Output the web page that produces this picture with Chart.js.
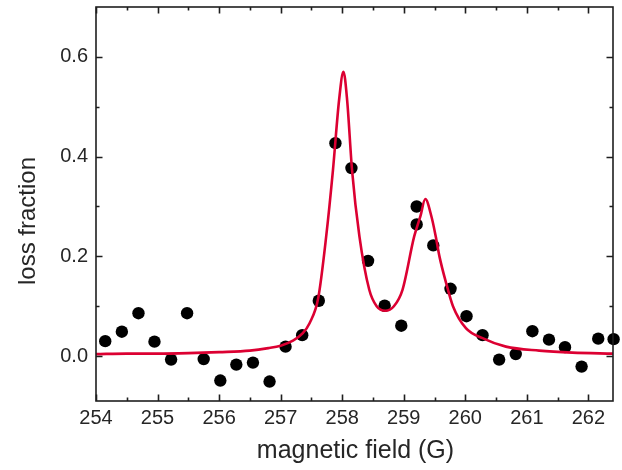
<!DOCTYPE html>
<html>
<head>
<meta charset="utf-8">
<script src="https://cdn.jsdelivr.net/npm/chart.js@4"></script>
<style>
  html, body { margin: 0; padding: 0; background: #fff; }
  #wrap { width: 622px; height: 470px; position: relative; }
</style>
</head>
<body>
<div id="wrap"><canvas id="chart"></canvas></div>
<script>
// measured points (magnetic field in G, loss fraction)
const fieldG = [254.15, 254.42, 254.69, 254.95, 255.22, 255.48, 255.75, 256.02, 256.28, 256.55,
                256.82, 257.08, 257.35, 257.62, 257.89, 258.15, 258.42, 258.69, 258.96, 259.21,
                259.21, 259.48, 259.76, 260.02, 260.28, 260.55, 260.82, 261.09, 261.36, 261.62,
                261.89, 262.16, 262.41];
const lossFrac = [0.030, 0.049, 0.086, 0.029, -0.007, 0.086, -0.006, -0.049, -0.017, -0.013,
                  -0.051, 0.019, 0.042, 0.111, 0.427, 0.377, 0.191, 0.101, 0.061, 0.300,
                  0.264, 0.222, 0.135, 0.080, 0.042, -0.007, 0.004, 0.050, 0.033, 0.018,
                  -0.021, 0.035, 0.034];

// fit curve
const fitField = [254.0, 254.5, 255.0, 255.5, 256.0, 256.5, 256.8, 257.0, 257.2, 257.36,
                  257.47, 257.61, 257.74, 257.85, 257.95, 258.02, 258.08, 258.16, 258.28, 258.44,
                  258.56, 258.70, 258.84, 258.98, 259.17, 259.27, 259.35, 259.45, 259.52, 259.58,
                  259.69, 259.80, 260.01, 260.28, 260.66, 261.2, 261.74, 262.4];
const fitLoss = [0.004, 0.005, 0.005, 0.006, 0.008, 0.011, 0.016, 0.021, 0.031, 0.046,
                 0.066, 0.116, 0.240, 0.373, 0.514, 0.570, 0.514, 0.373, 0.240, 0.133,
                 0.100, 0.091, 0.100, 0.133, 0.240, 0.280, 0.315, 0.280, 0.240, 0.200,
                 0.146, 0.100, 0.056, 0.036, 0.019, 0.011, 0.007, 0.005];

const xMajor = [254, 255, 256, 257, 258, 259, 260, 261, 262];
const yMajor = [0.0, 0.2, 0.4, 0.6];

const txt = '#262626';
const font = 'Arial, "Liberation Sans", sans-serif';

// box around the plot with inward ticks on all four sides, plus axis titles
const framePlugin = {
  id: 'frame',
  afterDraw(chart) {
    const { ctx, chartArea: a, scales } = chart;
    const x = scales.x, y = scales.y;
    ctx.save();
    ctx.strokeStyle = '#1e1e1e';
    ctx.lineWidth = 1.6;
    ctx.strokeRect(a.left, a.top, a.right - a.left, a.bottom - a.top);

    ctx.beginPath();
    for (let v = 254; v <= 262.4; v += 0.5) {
      const px = Math.round(x.getPixelForValue(v)) + 0.5;
      const len = Math.abs(v - Math.round(v)) < 1e-6 ? 6.5 : 3.5;
      ctx.moveTo(px, a.bottom); ctx.lineTo(px, a.bottom - len);
      ctx.moveTo(px, a.top); ctx.lineTo(px, a.top + len);
    }
    for (let k = 0; k <= 6; k++) {
      const v = k * 0.1;
      const py = Math.round(y.getPixelForValue(v)) + 0.5;
      const len = k % 2 === 0 ? 6.5 : 3.5;
      ctx.moveTo(a.left, py); ctx.lineTo(a.left + len, py);
      ctx.moveTo(a.right, py); ctx.lineTo(a.right - len, py);
    }
    ctx.stroke();

    ctx.fillStyle = txt;
    ctx.font = '25px ' + font;
    ctx.textAlign = 'center';
    ctx.textBaseline = 'alphabetic';
    ctx.fillText('magnetic field (G)', (a.left + a.right) / 2 + 1, 458);

    ctx.translate(35, 221);
    ctx.rotate(-Math.PI / 2);
    ctx.font = '24px ' + font;
    ctx.fillText('loss fraction', 0, 0);
    ctx.restore();
  }
};

const ctx = document.getElementById('chart').getContext('2d');
new Chart(ctx, {
  type: 'scatter',
  data: {
    datasets: [
      {
        type: 'line',
        label: 'fit',
        data: fitField.map((v, i) => ({ x: v, y: fitLoss[i] })),
        borderColor: '#dc0032',
        borderWidth: 2.6,
        pointRadius: 0,
        fill: false,
        cubicInterpolationMode: 'monotone',
        clip: 0
      },
      {
        label: 'data',
        data: fieldG.map((v, i) => ({ x: v, y: lossFrac[i] })),
        backgroundColor: '#000',
        borderColor: '#000',
        pointRadius: 6.2,
        borderWidth: 0,
        clip: 8
      }
    ]
  },
  options: {
    responsive: true,
    maintainAspectRatio: false,
    animation: false,
    layout: { padding: { top: 7, right: 9, left: 0, bottom: 0 } },
    plugins: {
      legend: { display: false },
      tooltip: { enabled: false }
    },
    scales: {
      x: {
        type: 'linear',
        min: 254,
        max: 262.4,
        afterBuildTicks: s => { s.ticks = xMajor.map(v => ({ value: v })); },
        afterFit: s => { s.height = 69; s.paddingLeft = 0; s.paddingRight = 0; },
        grid: { display: false, drawTicks: false },
        border: { display: false },
        ticks: {
          padding: 5,
          color: txt,
          font: { family: font, size: 20 },
          callback: v => String(v)
        }
      },
      y: {
        type: 'linear',
        min: -0.09,
        max: 0.70,
        afterBuildTicks: s => { s.ticks = yMajor.map(v => ({ value: v })); },
        afterFit: s => { s.width = 96; s.paddingTop = 0; s.paddingBottom = 0; },
        grid: { display: false, drawTicks: false },
        border: { display: false },
        ticks: {
          padding: 8,
          color: txt,
          font: { family: font, size: 20 },
          callback: v => Number(v).toFixed(1)
        }
      }
    }
  },
  plugins: [framePlugin]
});
</script>
</body>
</html>
